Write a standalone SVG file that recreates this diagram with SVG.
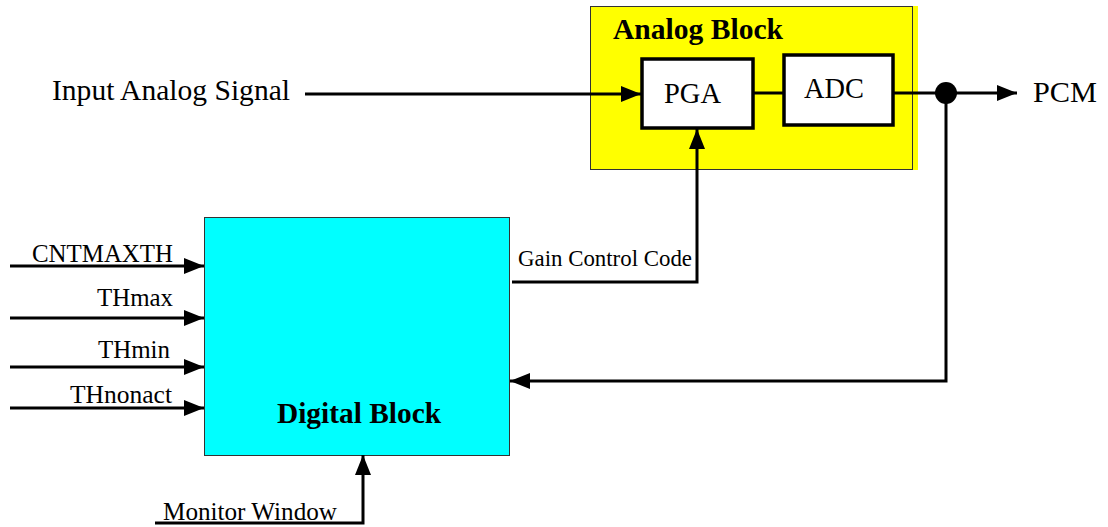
<svg xmlns="http://www.w3.org/2000/svg" width="1108" height="527" viewBox="0 0 1108 527">
<defs>
<marker id="a" viewBox="0 0 20 16" refX="20" refY="8" markerWidth="20" markerHeight="16" markerUnits="userSpaceOnUse" orient="auto">
<path d="M0,0 L20,8 L0,16 z" fill="#000"/>
</marker>
</defs>
<style>
text{font-family:"Liberation Serif","Times New Roman",serif;fill:#000}
.t24{font-size:29px}
.b{font-weight:bold}
.t20{font-size:24.5px}
.t19{font-size:22.5px}
.box{fill:#fff;stroke:#000;stroke-width:3.5}
.ln{fill:none;stroke:#000;stroke-width:3}
</style>
<rect width="1108" height="527" fill="#fff"/>
<g id="analog-block">
<rect x="590" y="6" width="328" height="164" fill="#ffff00"/>
<rect x="590.5" y="6.5" width="322" height="163" fill="#ffff00" stroke="#333" stroke-width="1"/>
<text class="t24 b" x="613" y="39" textLength="170" lengthAdjust="spacingAndGlyphs">Analog Block</text>
</g>
<g id="pga">
<rect class="box" x="642" y="59" width="111" height="69"/>
<text class="t24" x="664" y="103" textLength="57" lengthAdjust="spacingAndGlyphs">PGA</text>
</g>
<g id="adc">
<rect class="box" x="784" y="55" width="109" height="70"/>
<text class="t24" x="804" y="98" textLength="60" lengthAdjust="spacingAndGlyphs">ADC</text>
</g>
<g id="digital-block">
<rect x="204.5" y="217.5" width="305" height="238" fill="#00ffff" stroke="#333" stroke-width="1"/>
<text class="t24 b" x="277" y="423" textLength="164" lengthAdjust="spacingAndGlyphs">Digital Block</text>
</g>
<g id="labels">
<text class="t24" x="52" y="100" textLength="238" lengthAdjust="spacingAndGlyphs">Input Analog Signal</text>
<text class="t24" x="1033" y="102" textLength="64" lengthAdjust="spacingAndGlyphs">PCM</text>
<text class="t19" x="518" y="266" textLength="174" lengthAdjust="spacingAndGlyphs">Gain Control Code</text>
<text class="t20" x="32" y="262" textLength="141" lengthAdjust="spacingAndGlyphs">CNTMAXTH</text>
<text class="t20" x="97" y="306" textLength="76" lengthAdjust="spacingAndGlyphs">THmax</text>
<text class="t20" x="98" y="358" textLength="72" lengthAdjust="spacingAndGlyphs">THmin</text>
<text class="t20" x="70" y="403" textLength="102" lengthAdjust="spacingAndGlyphs">THnonact</text>
<text class="t20" x="163" y="520" textLength="174" lengthAdjust="spacingAndGlyphs">Monitor Window</text>
</g>
<g id="connectors">
<line class="ln" x1="305" y1="94" x2="641" y2="94" marker-end="url(#a)"/>
<line class="ln" x1="753" y1="93" x2="784" y2="93"/>
<line class="ln" x1="893" y1="93" x2="1017" y2="93" marker-end="url(#a)"/>
<circle cx="946" cy="93" r="11" fill="#000"/>
<polyline class="ln" points="946,93 946,381 510,381" marker-end="url(#a)"/>
<polyline class="ln" points="512,282 697,282 697,129" marker-end="url(#a)"/>
<line class="ln" x1="10" y1="266" x2="204" y2="266" marker-end="url(#a)"/>
<line class="ln" x1="10" y1="318" x2="204" y2="318" marker-end="url(#a)"/>
<line class="ln" x1="10" y1="367" x2="204" y2="367" marker-end="url(#a)"/>
<line class="ln" x1="10" y1="408" x2="204" y2="408" marker-end="url(#a)"/>
<polyline class="ln" points="155,523 363,523 363,455" marker-end="url(#a)"/>
</g>
</svg>
